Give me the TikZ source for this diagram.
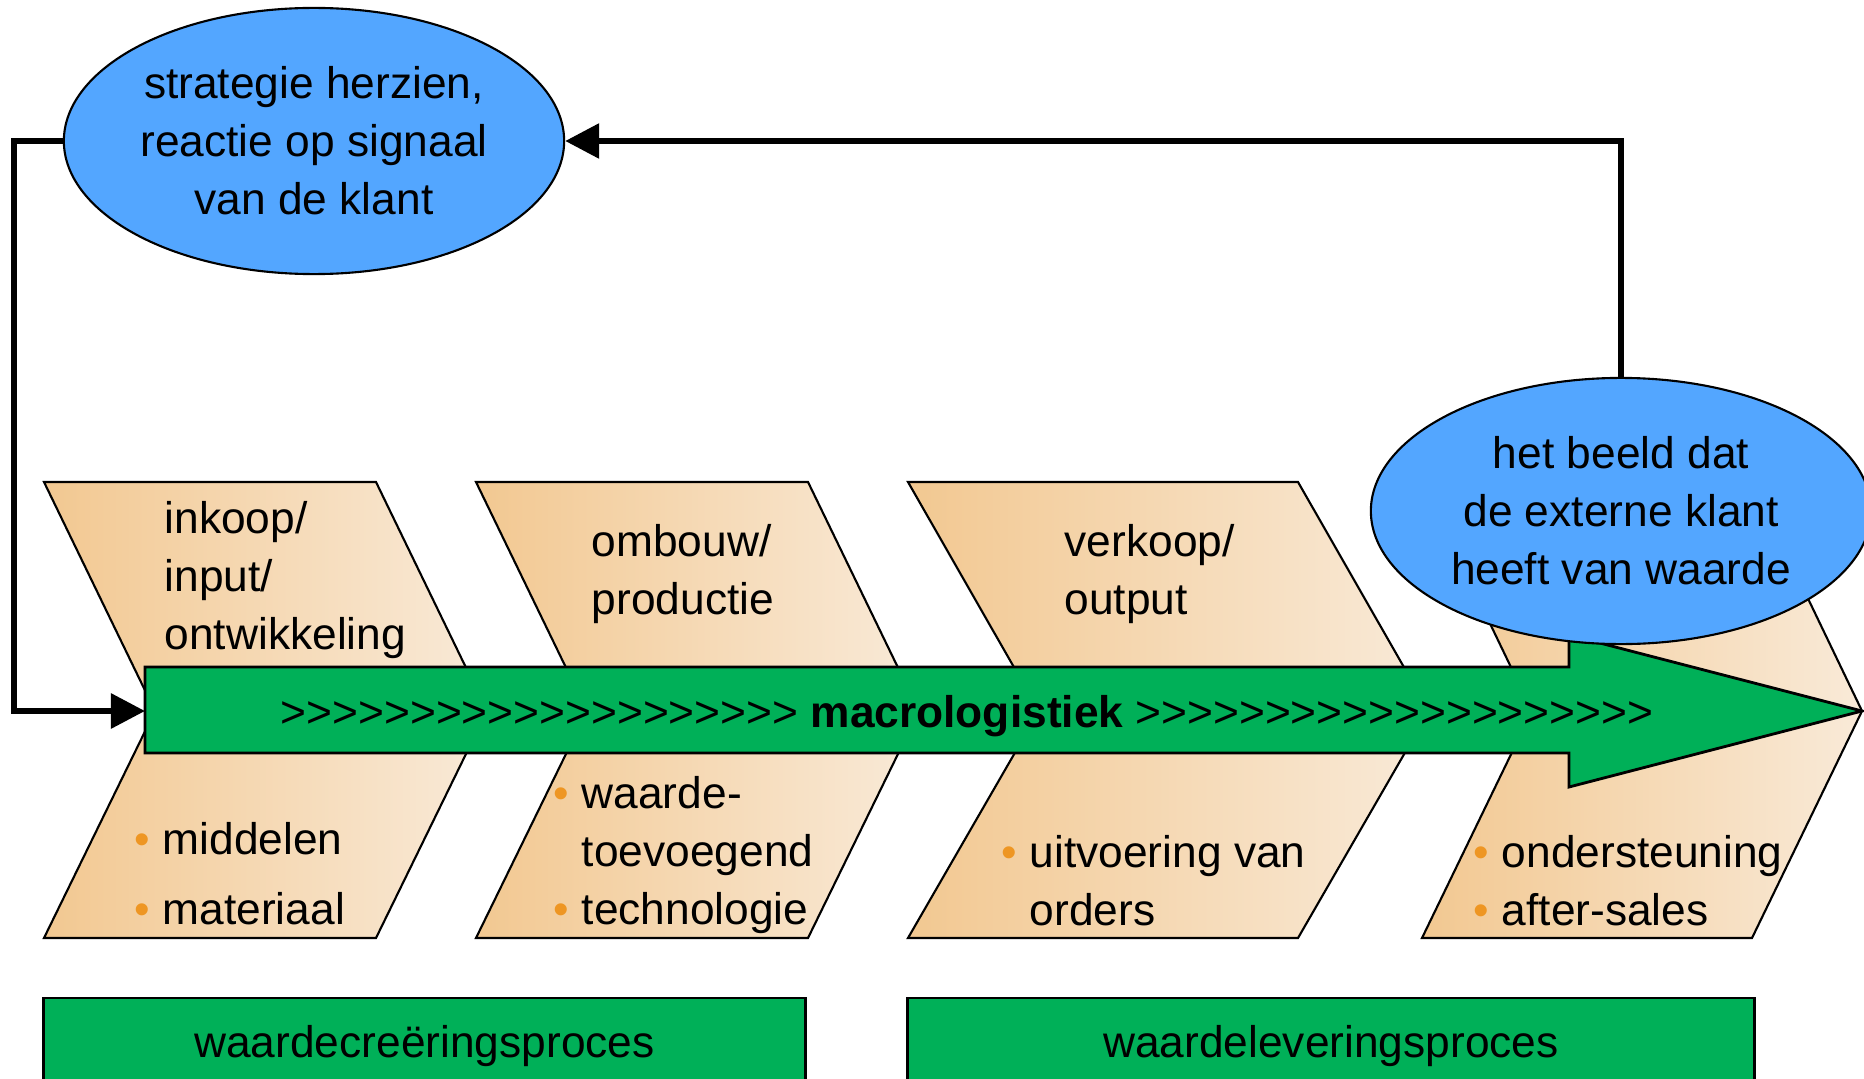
\documentclass[tikz,border=0pt]{standalone}
\usepackage{fontspec}
\setmainfont{Liberation Sans}[Ligatures=TeXOff]
\usetikzlibrary{shapes.geometric, arrows.meta}

\definecolor{flowgreen}{RGB}{0,176,88}
\definecolor{clientblue}{RGB}{83,166,255}
\definecolor{chevleft}{RGB}{242,200,145}
\definecolor{chevright}{RGB}{249,234,216}
\definecolor{dotorange}{RGB}{238,150,35}

\newcommand{\itm}{\makebox[0pt][r]{\textcolor{dotorange}{\textbullet}\hspace{3.5pt}}}
\newcommand{\gtrun}{>>>>>>>>>>>>>>>>>>>>}

\tikzset{
  chevron/.style={draw=black, line width=0.6pt, left color=chevleft, right color=chevright},
  stage/.style={anchor=west, align=left, inner sep=0pt, font=\fontsize{12.6}{16.5}\selectfont},
  client/.style={ellipse, draw=black, line width=0.6pt, fill=clientblue, minimum width=5cm, minimum height=2.66cm, inner sep=0pt, align=center, font=\fontsize{12.6}{16.5}\selectfont},
  process/.style={draw=black, line width=0.8pt, fill=flowgreen, minimum height=0.96cm, inner sep=0pt, font=\fontsize{12.6}{16.5}\selectfont},
  feedback/.style={line width=1.7pt, -{Triangle[length=0.34cm,width=0.34cm]}}
}

\begin{document}
\begin{tikzpicture}[x=0.01cm, y=-0.01cm]
\useasboundingbox (0,0) rectangle (1864,1079);
\clip (0,0) rectangle (1864,1079);

\draw[chevron] (44,482) -- (376,482) -- (487,711) -- (376,938) -- (44,938) -- (155,711) -- cycle;
\draw[chevron] (476,482) -- (808,482) -- (919,711) -- (808,938) -- (476,938) -- (587,711) -- cycle;
\draw[chevron] (908,482) -- (1298,482) -- (1429,711) -- (1298,938) -- (908,938) -- (1039,711) -- cycle;
\draw[chevron] (1422,482) -- (1752,482) -- (1862,711) -- (1752,938) -- (1422,938) -- (1532,711) -- cycle;

\node[stage] (inkoop) at (164,580) {inkoop/\\input/\\ontwikkeling};
\node[stage] (middelen) at (162,874) {\itm middelen\\[3.4pt]\itm materiaal};
\node[stage] (ombouw) at (591,574) {ombouw/\\productie};
\node[stage] (techniek) at (581,855) {\itm waarde-\\toevoegend\\\itm technologie};
\node[stage] (verkoop) at (1064,574) {verkoop/\\output};
\node[stage] (orders) at (1029,881) {\itm uitvoering van\\orders};
\node[stage] (service) at (1501,881) {\itm ondersteuning\\\itm after-sales};

\draw[fill=flowgreen, line width=0.8pt] (145,667) -- (1569,667) -- (1569,635) -- (1862,711) -- (1569,787) -- (1569,753) -- (145,753) -- cycle;
\node[font=\fontsize{12.6}{16.5}\selectfont] (flow) at (967,716) {\gtrun{} \textbf{macrologistiek} \gtrun};
\coordinate (tail) at (145,711);

\node[client] (strategie) at (314,141) {strategie herzien,\\reactie op signaal\\van de klant};
\node[client] (beeld) at (1621,511) {het beeld dat\\de externe klant\\heeft van waarde};

\coordinate (bend) at (14,141);
\draw[feedback] (beeld.north) |- (strategie.east);
\draw[feedback] (strategie.west) -- (bend) |- (tail);

\node[process, minimum width=7.61cm] (creatie) at (424.5,1046) {waardecreëringsproces};
\node[process, minimum width=8.46cm] (levering) at (1331,1046) {waardeleveringsproces};
\end{tikzpicture}
\end{document}
